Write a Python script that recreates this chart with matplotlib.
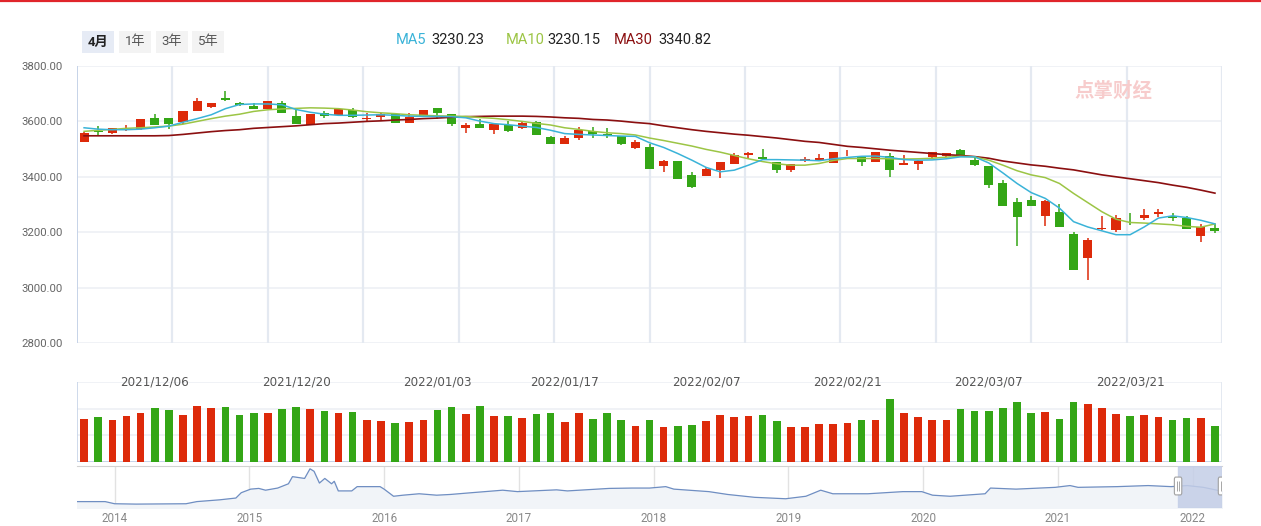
import matplotlib
matplotlib.use("Agg")
import matplotlib.pyplot as plt
import numpy as np
from matplotlib.patches import Rectangle, FancyBboxPatch
from matplotlib.lines import Line2D

plt.rcParams['font.family'] = ['Roboto', 'Noto Sans CJK SC', 'DejaVu Sans']

# daily candles, 2021/11/29 .. 2022/03/29
opens = [3526, 3567, 3558, 3570, 3572, 3614, 3611, 3597, 3637, 3651,
         3685, 3668, 3654, 3644, 3668, 3618, 3587, 3631, 3624, 3642,
         3608, 3615, 3628, 3594, 3621, 3647, 3625, 3577, 3589, 3569,
         3588, 3576, 3599, 3543, 3519, 3540, 3567, 3553, 3546, 3504,
         3507, 3440, 3456, 3406, 3404, 3426, 3447, 3479, 3471, 3453,
         3425, 3456, 3460, 3450, 3488, 3472, 3454, 3475, 3443, 3447,
         3470, 3476, 3496, 3460, 3438, 3377, 3308, 3315, 3259, 3273,
         3194, 3106, 3212, 3208, 3256, 3252, 3266, 3259, 3250, 3185, 3215]
closes = [3559, 3562, 3575, 3574, 3607, 3587, 3590, 3636, 3672, 3665,
          3676, 3660, 3644, 3672, 3630, 3590, 3625, 3619, 3643, 3615,
          3614, 3628, 3594, 3617, 3640, 3630, 3590, 3586, 3576, 3592,
          3565, 3596, 3551, 3519, 3539, 3568, 3555, 3547, 3519, 3525,
          3429, 3456, 3393, 3362, 3428, 3453, 3479, 3486, 3463, 3424,
          3446, 3464, 3467, 3488, 3490, 3454, 3489, 3426, 3449, 3458,
          3489, 3486, 3479, 3443, 3370, 3296, 3255, 3295, 3312, 3220,
          3065, 3173, 3215, 3253, 3254, 3262, 3274, 3252, 3212, 3217, 3203]
highs = [3562, 3582, 3577, 3586, 3608, 3625, 3614, 3637, 3686, 3666,
         3708, 3669, 3668, 3673, 3673, 3643, 3626, 3636, 3645, 3647,
         3631, 3629, 3630, 3629, 3641, 3650, 3626, 3593, 3607, 3593,
         3601, 3597, 3600, 3546, 3546, 3578, 3578, 3575, 3547, 3532,
         3517, 3460, 3457, 3418, 3435, 3454, 3485, 3489, 3499, 3455,
         3447, 3473, 3481, 3489, 3496, 3473, 3490, 3485, 3478, 3459,
         3490, 3487, 3499, 3472, 3439, 3387, 3323, 3331, 3317, 3301,
         3199, 3180, 3259, 3263, 3270, 3283, 3283, 3269, 3259, 3229, 3231]
lows = [3524, 3550, 3556, 3565, 3570, 3586, 3572, 3589, 3636, 3650,
        3675, 3655, 3643, 3643, 3629, 3589, 3586, 3614, 3619, 3611,
        3602, 3605, 3593, 3593, 3620, 3608, 3583, 3558, 3575, 3555,
        3561, 3572, 3550, 3518, 3518, 3533, 3540, 3540, 3516, 3500,
        3428, 3418, 3392, 3359, 3403, 3394, 3445, 3463, 3462, 3414,
        3419, 3455, 3458, 3449, 3474, 3440, 3453, 3401, 3442, 3426,
        3468, 3471, 3478, 3440, 3360, 3293, 3151, 3294, 3223, 3219,
        3064, 3027, 3208, 3200, 3227, 3244, 3256, 3241, 3211, 3163, 3198]

ma5 = [3577, 3572, 3570, 3570, 3572, 3577, 3583, 3597, 3610, 3624,
       3646, 3661, 3663, 3663, 3660, 3643, 3633, 3626, 3622, 3622,
       3623, 3624, 3622, 3619, 3618, 3618, 3617, 3613, 3601, 3592,
       3588, 3583, 3578, 3568, 3556, 3553, 3551, 3549, 3547, 3546,
       3523, 3506, 3484, 3460, 3434, 3418, 3424, 3442, 3462, 3462,
       3461, 3460, 3458, 3465, 3470, 3474, 3475, 3470, 3462, 3460,
       3461, 3465, 3472, 3472, 3450, 3414, 3376, 3343, 3322, 3287,
       3238, 3219, 3205, 3191, 3191, 3219, 3251, 3259, 3253, 3243, 3230]
ma10 = [3564, 3568, 3571, 3575, 3577, 3580, 3583, 3590, 3600, 3610,
        3619, 3626, 3636, 3642, 3645, 3647, 3649, 3648, 3646, 3641,
        3635, 3631, 3628, 3624, 3622, 3620, 3619, 3618, 3614, 3611,
        3606, 3600, 3593, 3587, 3577, 3571, 3564, 3559, 3556, 3551,
        3540, 3531, 3521, 3511, 3499, 3489, 3477, 3465, 3455, 3447,
        3442, 3442, 3448, 3459, 3466, 3466, 3466, 3465, 3464, 3465,
        3467, 3471, 3474, 3472, 3460, 3442, 3422, 3407, 3397, 3376,
        3340, 3307, 3274, 3247, 3235, 3233, 3230, 3227, 3221, 3218, 3230]
ma30 = [3548, 3548, 3548, 3548, 3548, 3548, 3549, 3553, 3558, 3563,
        3567, 3570, 3575, 3578, 3581, 3584, 3588, 3592, 3594, 3597,
        3600, 3602, 3605, 3607, 3610, 3612, 3615, 3617, 3618, 3619,
        3619, 3619, 3618, 3616, 3613, 3611, 3607, 3605, 3601, 3596,
        3592, 3584, 3577, 3570, 3564, 3559, 3554, 3550, 3545, 3540,
        3534, 3528, 3524, 3517, 3510, 3506, 3501, 3496, 3492, 3488,
        3484, 3480, 3477, 3473, 3467, 3457, 3450, 3443, 3438, 3431,
        3425, 3416, 3407, 3400, 3393, 3386, 3379, 3370, 3362, 3352, 3341]

volume = [129, 135, 125, 138, 146, 161, 155, 141, 167, 161,
          164, 141, 146, 146, 158, 164, 158, 152, 146, 149,
          125, 122, 116, 119, 125, 155, 164, 143, 167, 137,
          137, 131, 143, 146, 119, 146, 128, 146, 125, 107,
          125, 104, 107, 110, 122, 140, 134, 137, 140, 122,
          104, 104, 113, 113, 116, 125, 125, 188, 146, 134,
          125, 125, 158, 152, 152, 161, 179, 146, 149, 128,
          179, 173, 161, 143, 137, 140, 134, 125, 131, 131, 107]

date_ticks = [5, 15, 25, 34, 44, 54, 64, 74]
date_labels = ['2021/12/06', '2021/12/20', '2022/01/03', '2022/01/17',
               '2022/02/07', '2022/02/21', '2022/03/07', '2022/03/21']

# overview line in the zoom bar (year, index level)
nav_years = [2013.72, 2013.93, 2014.0, 2014.16, 2014.53, 2014.61, 2014.78, 2014.90,
             2014.94, 2015.01, 2015.07, 2015.12, 2015.21, 2015.29, 2015.32, 2015.41,
             2015.45, 2015.48, 2015.52, 2015.56, 2015.61, 2015.63, 2015.66, 2015.76,
             2015.80, 2015.86, 2015.97, 2016.0, 2016.07, 2016.14, 2016.26, 2016.39,
             2016.49, 2016.65, 2016.88, 2016.99, 2017.28, 2017.36, 2017.67, 2017.84,
             2017.97, 2018.09, 2018.15, 2018.41, 2018.55, 2018.75, 2018.98, 2019.13,
             2019.24, 2019.33, 2019.59, 2019.85, 2019.99, 2020.07, 2020.2, 2020.46,
             2020.5, 2020.69, 2020.98, 2021.09, 2021.15, 2021.44, 2021.67, 2021.84,
             2021.96, 2022.08, 2022.22]
nav_vals = [2224, 2224, 2032, 2000, 2032, 2224, 2384, 2544,
            3024, 3344, 3408, 3248, 3440, 3824, 4464, 4304,
            5168, 4944, 3888, 4304, 3824, 4048, 3184, 3184,
            3568, 3568, 3568, 3344, 2704, 2800, 2928, 2800,
            2864, 3024, 3248, 3120, 3280, 3184, 3408, 3440,
            3440, 3568, 3344, 3120, 2864, 2608, 2480, 2704,
            3248, 2928, 2928, 3120, 3120, 2800, 2704, 2928,
            3440, 3344, 3504, 3664, 3504, 3568, 3664, 3568,
            3664, 3504, 3150]
nav_year_ticks = [2014, 2015, 2016, 2017, 2018, 2019, 2020, 2021, 2022]

RED = '#dd2a0a'
GREEN = '#34a616'
C_MA5 = '#3ab3d8'
C_MA10 = '#9cc545'
C_MA30 = '#8b0f10'
GRID = '#eef0f5'
VGRID = '#e4e9f1'
AXIS = '#c6d3e8'

W, H = 1261, 526


def box(x0, y0, x1, y1):
    return [x0 / W, 1 - y1 / H, (x1 - x0) / W, (y1 - y0) / H]


fig = plt.figure(figsize=(W / 100, H / 100), dpi=100)
ax = fig.add_axes(box(77, 66, 1222, 343))
axv = fig.add_axes(box(77, 382, 1222, 462))
axn = fig.add_axes(box(77, 466, 1222, 508))

o = np.array(opens)
c = np.array(closes)
idx = np.arange(len(o))
colors = np.where(c >= o, RED, GREEN)

# candles
for y in range(2800, 3801, 200):
    ax.axhline(y, color=GRID, lw=1.2, zorder=0)
for xv in np.linspace(-0.5, 80.5, 13)[1:]:
    ax.axvline(xv, color=VGRID, lw=1.6, zorder=0)
ax.axvline(-0.5, color=AXIS, lw=1.4, zorder=1)
ax.vlines(idx, lows, highs, colors=colors, lw=1.1, zorder=3)
ax.bar(idx, np.maximum(np.abs(c - o), 2.5), bottom=np.minimum(o, c), width=0.64,
       color=colors, linewidth=0, zorder=4)
ax.plot(idx, ma30, color=C_MA30, lw=1.2, zorder=5)
ax.plot(idx, ma10, color=C_MA10, lw=1.1, zorder=5)
ax.plot(idx, ma5, color=C_MA5, lw=1.1, zorder=5)
ax.set_xlim(-0.5, 80.5)
ax.set_ylim(2800, 3800)
ax.set_xticks([])
ax.set_yticks(range(2800, 3801, 200))
ax.set_yticklabels([f'{v:.2f}' for v in range(2800, 3801, 200)])
ax.tick_params(axis='y', length=0, pad=10, labelsize=8.2, labelcolor='#666666')
for s in ax.spines.values():
    s.set_visible(False)

# volume
for y in (80, 160, 240):
    axv.axhline(y, color=GRID, lw=1.2, zorder=0)
axv.axhline(0, color=AXIS, lw=1.4, zorder=1)
axv.axvline(-0.5, color=AXIS, lw=1.2, zorder=1)
axv.axvline(80.5, color=VGRID, lw=1.4, zorder=1)
axv.bar(idx, volume, width=0.54, color=colors, linewidth=0, zorder=3)
for i, lab in zip(date_ticks, date_labels):
    axv.text(i, 240, lab, ha='center', va='center', fontsize=8.6, color='#555555',
             family=['DejaVu Sans'], zorder=4)
axv.set_xlim(-0.5, 80.5)
axv.set_ylim(0, 240)
axv.set_xticks([])
axv.set_yticks([])
for s in axv.spines.values():
    s.set_visible(False)

# zoom bar
nav_lo, nav_hi = 1650, 5420
axn.fill_between(nav_years, nav_vals, nav_lo, color='#f1f4f8', zorder=1)
axn.plot(nav_years, nav_vals, color='#6f8ec2', lw=0.9, zorder=3)
for yr in nav_year_ticks:
    axn.axvline(yr, color='#e2e2e2', lw=1.0, zorder=0)
sel0, sel1 = 2021.892, 2022.218
axn.axvspan(sel0, sel1, color='#c4cee7', alpha=0.85, zorder=4)
for hx in (sel0, sel1):
    hw = 0.055
    axn.add_patch(FancyBboxPatch((hx - hw / 2, 3625 - 800), hw, 1600,
                                 boxstyle='round,pad=0,rounding_size=0.01',
                                 facecolor='white', edgecolor='#a0a0a0', lw=0.8,
                                 zorder=6, mutation_aspect=20000))
    axn.vlines([hx - 0.008, hx + 0.008], 3625 - 450, 3625 + 450, colors='#999999',
               lw=0.6, zorder=7)
axn.set_xlim(2013.721, 2022.218)
axn.set_ylim(nav_lo, nav_hi)
axn.set_xticks(nav_year_ticks)
axn.set_xticklabels([str(y) for y in nav_year_ticks])
axn.tick_params(axis='x', length=0, pad=3, labelsize=8.4, labelcolor='#888888')
axn.set_yticks([])
for k, s in axn.spines.items():
    s.set_visible(k == 'top')
axn.spines['top'].set_color('#d2d2d2')

# header
fig.add_artist(Line2D([0, 1], [1 - 1 / H, 1 - 1 / H], color='#e0252b', lw=1.6,
                      transform=fig.transFigure))
buttons = ['4月', '1年', '3年', '5年']
button_x = [82, 119, 156, 192]
for k, (lab, x0) in enumerate(zip(buttons, button_x)):
    fig.add_artist(Rectangle((x0 / W, 1 - 53 / H), 32 / W, 22 / H,
                             transform=fig.transFigure, linewidth=0,
                             facecolor='#e6ebf5' if k == 0 else '#f3f3f3'))
    fig.text((x0 + 16) / W, 1 - 42 / H, lab, ha='center', va='center', fontsize=9.5,
             color='#222222' if k == 0 else '#555555',
             weight='bold' if k == 0 else 'normal')

legend = [('MA5', C_MA5, 396), ('3230.23', '#222222', 431),
          ('MA10', C_MA10, 506), ('3230.15', '#222222', 547),
          ('MA30', C_MA30, 614), ('3340.82', '#222222', 658)]
for txt, col, x0 in legend:
    fig.text(x0 / W, 1 - 40 / H, txt, ha='left', va='center', fontsize=10.5, color=col)

fig.text(1113 / W, 1 - 91 / H, '点掌财经', ha='center', va='center', fontsize=14,
         color='#f7cccc', weight='bold', family=['Noto Sans CJK SC'])

fig.savefig('out.png', dpi=100)
